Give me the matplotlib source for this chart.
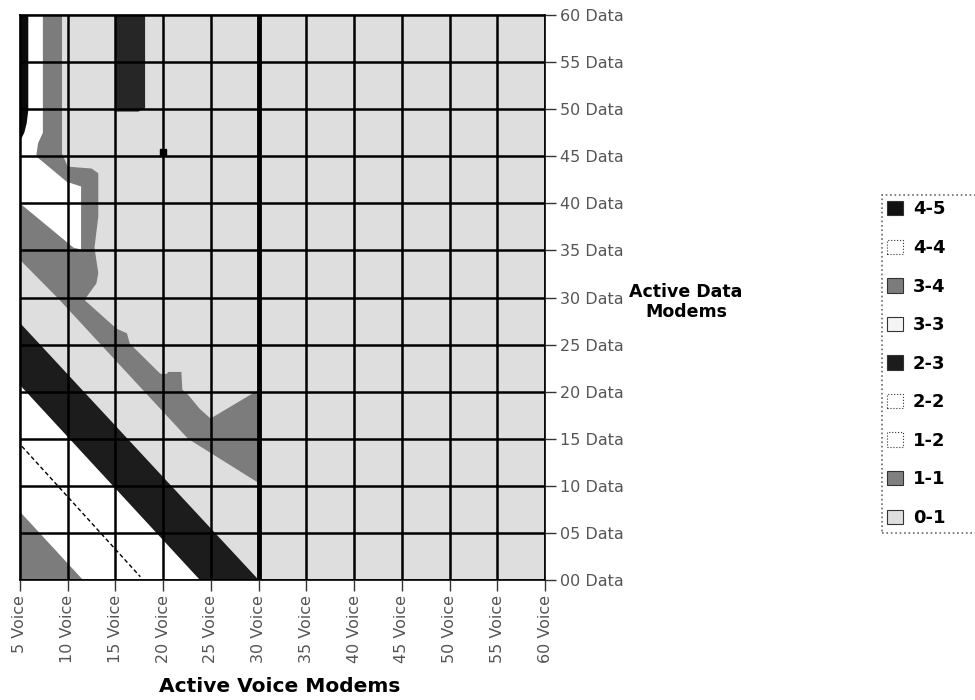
import matplotlib
matplotlib.use('Agg')
import matplotlib.pyplot as plt
from matplotlib.patches import Polygon, Patch

plt.rcParams['font.family'] = ['DejaVu Sans']

# axis values
voice_ticks = [5, 10, 15, 20, 25, 30, 35, 40, 45, 50, 55, 60]
data_ticks = [0, 5, 10, 15, 20, 25, 30, 35, 40, 45, 50, 55, 60]
voice_labels = [f'{v} Voice' for v in voice_ticks]
data_labels = [f'{d:02d} Data' for d in data_ticks]

# legend
legend_labels = ['4-5', '4-4', '3-4', '3-3', '2-3', '2-2', '1-2', '1-1', '0-1']
legend_colors = ['#111111', '#ffffff', '#7c7c7c', '#f4f4f4', '#1c1c1c',
                 '#ffffff', '#ffffff', '#808080', '#dedede']

# region outlines (voice, data)
white_top = [(5, 60), (7.4, 60), (7.4, 47.5), (6.9, 46.4), (6.7, 45.0),
             (9.9, 42.3), (11.4, 41.8), (11.4, 34), (5, 34)]
gray_top = [(7.4, 60), (9.4, 60), (9.4, 45.3), (10.0, 43.9), (12.5, 43.7),
            (13.2, 43.2), (13.2, 38.6), (12.8, 35.3), (13.2, 32.6), (13.0, 31.5),
            (12.0, 30.1), (11.8, 29.7), (15.1, 26.7), (16.2, 26.2), (16.5, 25.1),
            (19.7, 21.9), (20.4, 21.9), (20.5, 22.1), (21.9, 22.1), (22.0, 20.2),
            (22.5, 19.8), (23.8, 18.2), (24.9, 17.2), (25.2, 17.3), (30, 20.2),
            (30, 10.3), (22.6, 15.0), (9.0, 29.9), (5, 34.0), (5, 40.0),
            (10.6, 35.3), (11.4, 35.1), (11.4, 41.8), (9.9, 42.3), (6.7, 45.0),
            (6.9, 46.4), (7.4, 47.5)]
black_left = [(5, 60), (5.87, 60), (5.87, 49.9), (5.7, 48.5), (5.45, 47.5), (5, 46.6)]
dark_top = [(15, 60), (18.1, 60), (18.1, 50.1), (17.4, 49.75), (15, 49.75)]
white_low = [(5, 0), (5, 20.7), (23.85, 0)]
gray_low = [(5, 0), (5, 7.25), (11.6, 0)]
black_band = [(5, 20.7), (5, 27.3), (30, 0), (23.85, 0)]
dash_x = [5.2, 17.6]
dash_y = [14.2, 0.35]

LIGHT = '#dedede'
GRAY = '#7c7c7c'
DARK = '#1c1c1c'

fig = plt.figure(figsize=(9.75, 7), dpi=100)
ax = fig.add_axes([0.0205, 0.1714, 0.5387, 0.8071])
ax.set_facecolor(LIGHT)

ax.add_patch(Polygon(white_top, closed=True, facecolor='white', edgecolor='none'))
ax.add_patch(Polygon(gray_top, closed=True, facecolor=GRAY, edgecolor='none'))
ax.add_patch(Polygon(black_left, closed=True, facecolor='#0a0a0a', edgecolor='none'))
ax.add_patch(Polygon(dark_top, closed=True, facecolor='#262626', edgecolor='none'))
ax.add_patch(Polygon(white_low, closed=True, facecolor='white', edgecolor='none'))
ax.add_patch(Polygon(gray_low, closed=True, facecolor=GRAY, edgecolor='none'))
ax.add_patch(Polygon(black_band, closed=True, facecolor=DARK, edgecolor='none'))
ax.plot(dash_x, dash_y, color='black', lw=1.0, ls=(0, (3, 2)))
ax.plot([20], [45.5], marker='s', ms=4, color='black')

ax.set_xlim(5, 60)
ax.set_ylim(0, 60)
ax.set_xticks(voice_ticks)
ax.set_yticks(data_ticks)
ax.set_xticklabels(voice_labels, rotation=90, fontsize=11.5, color='#555555')
ax.set_yticklabels(data_labels, fontsize=11.5, color='#555555')
ax.yaxis.tick_right()
ax.tick_params(axis='both', length=8, width=1, color='#333333', pad=3)
ax.grid(True, color='black', lw=1.8)
ax.set_axisbelow(False)
for s in ax.spines.values():
    s.set_color('black')
    s.set_linewidth(1.2)
# heavier line on 30 voice
ax.axvline(30, color='black', lw=3.5)

fig.text(686 / 975, 1 - 302 / 700, 'Active Data\nModems', ha='center', va='center',
         fontsize=12.5, fontweight='bold', linespacing=1.2)
fig.text(280 / 975, 1 - 686 / 700, 'Active Voice Modems', ha='center', va='center',
         fontsize=14.5, fontweight='bold')

handles = []
for lab, col in zip(legend_labels, legend_colors):
    ls = ':' if col == '#ffffff' else '-'
    handles.append(Patch(facecolor=col, edgecolor='#333333', lw=0.8, linestyle=ls, label=lab))
leg = fig.legend(handles=handles, loc='upper left', mode='expand',
                 bbox_to_anchor=(882 / 975, 1 - 195 / 700, 0.3, 0.0),
                 fontsize=13, handlelength=0.85, handleheight=0.85, handletextpad=0.55,
                 labelspacing=1.14, borderaxespad=0, borderpad=0.3, fancybox=False,
                 frameon=True)
leg.get_frame().set_edgecolor('#444444')
leg.get_frame().set_linestyle(':')
leg.get_frame().set_linewidth(1.2)
for t in leg.get_texts():
    t.set_fontweight('bold')

fig.savefig('out.png', dpi=100)
